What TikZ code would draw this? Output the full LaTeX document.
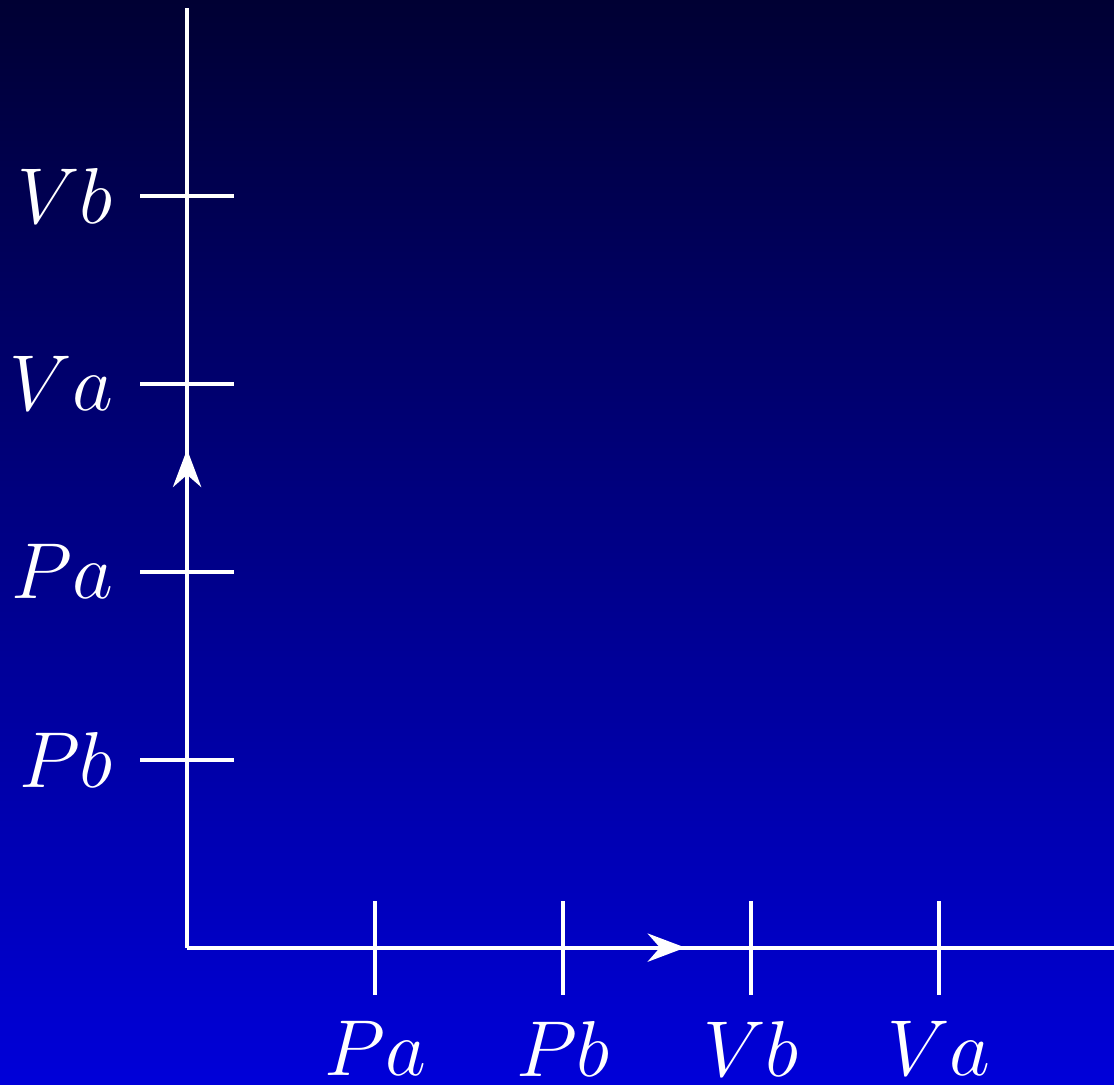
\documentclass[tikz,border=0pt]{standalone}
\usepackage{tikz}
\usetikzlibrary{arrows.meta,decorations.markings}
\definecolor{SkyTop}{HTML}{000033}
\definecolor{SkyBottom}{HTML}{0000D9}
\tikzset{
  axisline/.style={semithick, white, postaction={decorate},
    decoration={markings, mark=at position 0.53 with {\arrow{Stealth}}}},
  tickline/.style={semithick, white},
  ticklabel/.style={white, font=\large}
}

\begin{document}
\begin{tikzpicture}
% background
\useasboundingbox (-0.995,-0.73) rectangle (4.93,5.04);
\shade[top color=SkyTop, bottom color=SkyBottom] (-0.995,-0.73) rectangle (4.93,5.04);

% axes
\coordinate (O) at (0,0);
\coordinate (xend) at (5,0);
\coordinate (yend) at (0,5);
\draw[axisline] (O) -- (xend);
\draw[axisline] (O) -- (yend);

% x ticks
\foreach \x/\lab in {1/Pa, 2/Pb, 3/Vb, 4/Va} {
  \draw[tickline] (\x,-0.25) -- (\x,0.25);
  \node[ticklabel, below, yshift=-0.02cm] (x\lab) at (\x,-0.25) {$\lab$};
}

% y ticks
\foreach \y/\lab in {1/Pb, 2/Pa, 3/Va, 4/Vb} {
  \draw[tickline] (-0.25,\y) -- (0.25,\y);
  \node[ticklabel, left, xshift=-0.02cm] (y\lab) at (-0.25,\y) {$\lab$};
}
\end{tikzpicture}
\end{document}
